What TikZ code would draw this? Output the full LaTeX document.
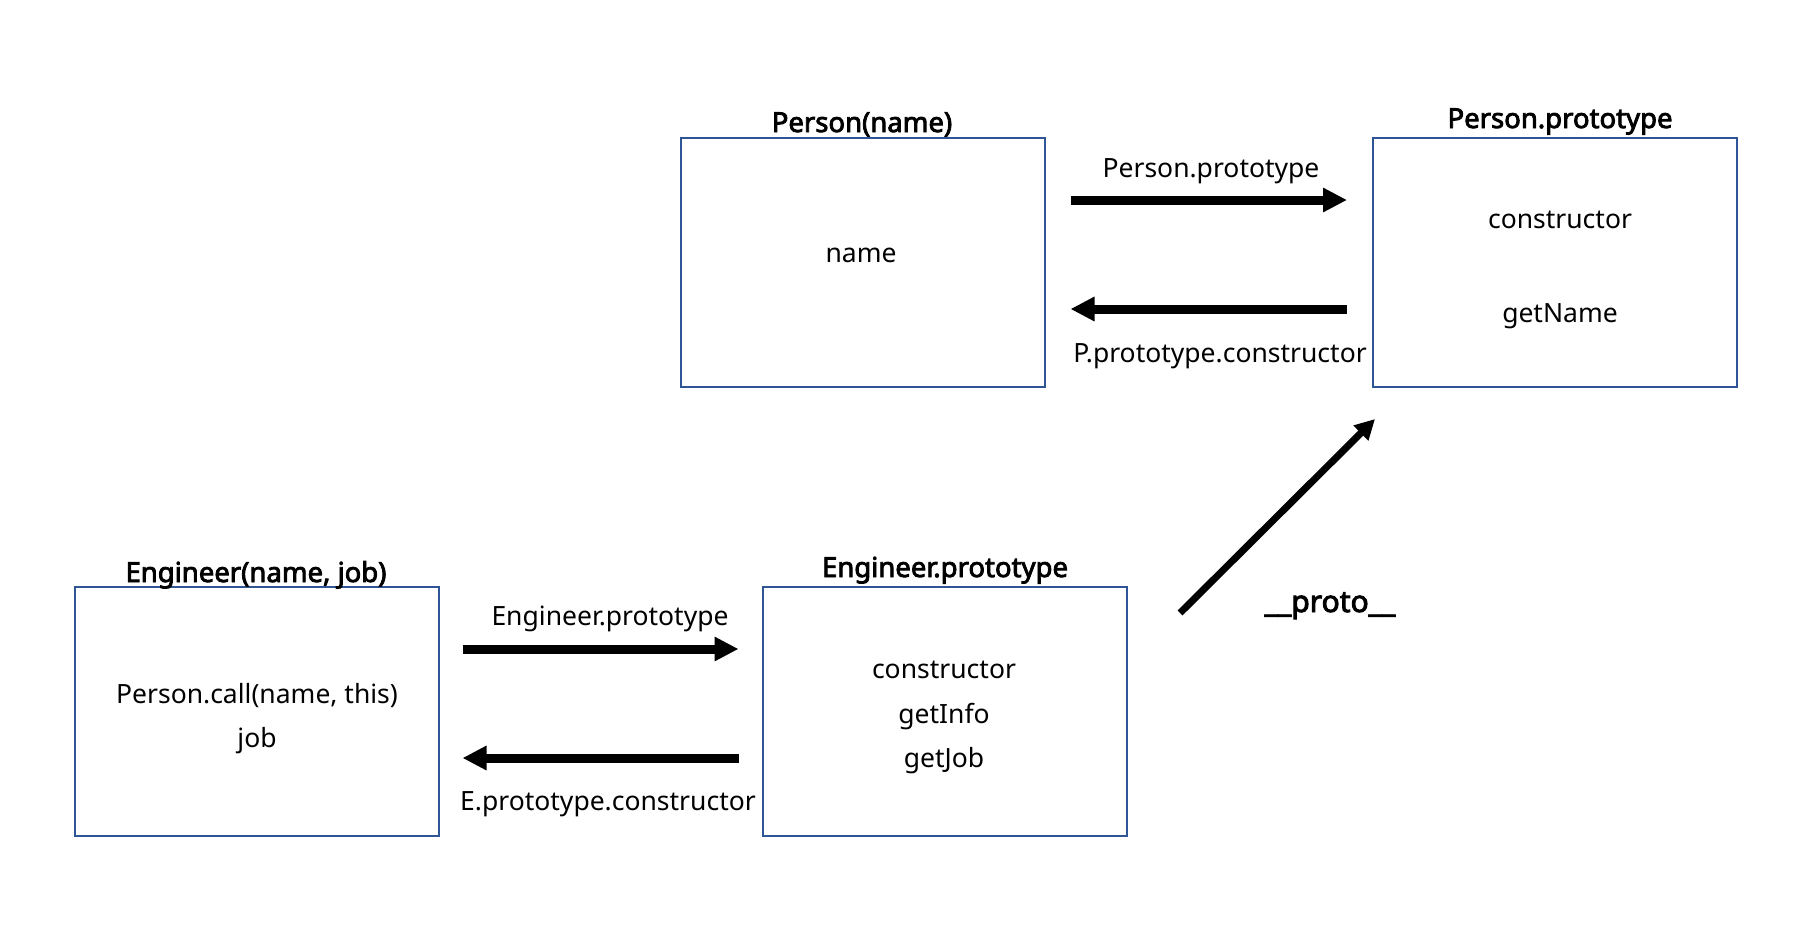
\documentclass[tikz,border=0pt]{standalone}
\usepackage{fontspec}
\setmainfont{Noto Sans}[AutoFakeBold=3]
\usetikzlibrary{arrows.meta}
\definecolor{boxblue}{RGB}{47,85,151}
\tikzset{
  objbox/.style={draw=boxblue, line width=2pt, minimum width=364pt, minimum height=249pt, inner sep=0pt},
  txt/.style={anchor=base, inner sep=0pt, font=\fontsize{26.5}{30}\selectfont},
  ttl/.style={anchor=base, inner sep=0pt, font=\fontsize{27.5}{30}\selectfont\bfseries},
  bigarrow/.style={line width=9pt, -{Triangle[width=23pt,length=24pt]}, shorten <=25pt, shorten >=25pt},
  protoarrow/.style={line width=7pt, -{Triangle[width=20pt,length=20pt]}}
}
\begin{document}
\begin{tikzpicture}[x=1pt,y=-1pt]
\useasboundingbox (0,0) rectangle (1803,926);
% boxes
\node[objbox] (P)  at (862.5,262.5) {};
\node[objbox] (PP) at (1555,262.5) {};
\node[objbox] (E)  at (256.5,711.5) {};
\node[objbox] (EP) at (944.5,711.5) {};
% titles
\node[ttl] (Pt)  at (862,132) {Person(name)};
\node[ttl] (PPt) at (1560,128) {Person.prototype};
\node[ttl] (Et)  at (256,582) {Engineer(name, job)};
\node[ttl] (EPt) at (945,577) {Engineer.prototype};
% contents
\node[txt] (Pn) at (861,262) {name};
\node[txt] (PPc) at (1560,228) {constructor};
\node[txt] (PPg) at (1560,322) {getName};
\node[txt] (Ec) at (257,703) {Person.call(name, this)};
\node[txt] (Ej) at (257,747) {job};
\node[txt] (EPc) at (944,678) {constructor};
\node[txt] (EPi) at (944,723) {getInfo};
\node[txt] (EPj) at (944,767) {getJob};
% arrow labels
\node[txt] (l1) at (1211,177) {Person.prototype};
\node[txt] (l2) at (1220,362) {P.prototype.constructor};
\node[txt] (l3) at (610,625) {Engineer.prototype};
\node[txt] (l4) at (608,810) {E.prototype.constructor};
\node[ttl, font=\fontsize{30}{32}\selectfont\bfseries] (l5) at (1330,612) {\_\_proto\_\_};
% arrows
\draw[bigarrow] ([yshift=62.5pt]P.east) -- ([yshift=62.5pt]PP.west);
\draw[bigarrow] ([yshift=-46.5pt]PP.west) -- ([yshift=-46.5pt]P.east);
\draw[bigarrow, shorten <=23pt, shorten >=23pt] ([yshift=62.5pt]E.east) -- ([yshift=62.5pt]EP.west);
\draw[bigarrow, shorten <=23pt, shorten >=23pt] ([yshift=-46.5pt]EP.west) -- ([yshift=-46.5pt]E.east);
\coordinate (ps) at (1180,613);
\coordinate (pe) at (1375,419);
\draw[protoarrow] (ps) -- (pe);
\end{tikzpicture}
\end{document}
